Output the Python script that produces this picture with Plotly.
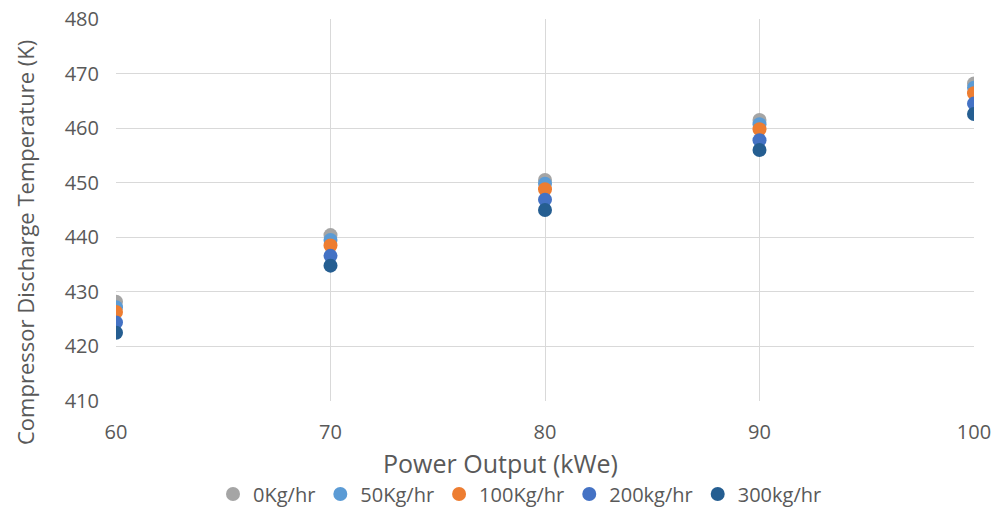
import plotly.graph_objects as go

power = [60, 70, 80, 90, 100]
series_names = ["0Kg/hr", "50Kg/hr", "100Kg/hr", "200kg/hr", "300kg/hr"]
t_0 = [428.2, 440.4, 450.5, 461.5, 468.2]
t_50 = [427.2, 439.5, 449.8, 460.7, 467.4]
t_100 = [426.3, 438.5, 448.8, 459.8, 466.4]
t_200 = [424.4, 436.6, 446.9, 457.8, 464.5]
t_300 = [422.5, 434.8, 445.0, 456.0, 462.6]
colors = ["#A5A5A5", "#5B9BD5", "#ED7D31", "#4472C4", "#255E91"]
x_title = "Power Output (kWe)"
y_title = "Compressor Discharge Temperature (K)"

fig = go.Figure()
for name, vals, c in zip(series_names, [t_0, t_50, t_100, t_200, t_300], colors):
    fig.add_trace(go.Scatter(x=power, y=vals, mode="markers", name=name,
                             marker=dict(color=c, size=14, line=dict(width=0))))

font = "Open Sans, Liberation Sans, sans-serif"
W, H = 995, 508
L, R, T, B = 116, 21, 19, 107
pw, ph = W - L - R, H - T - B

fig.update_layout(
    width=W, height=H,
    margin=dict(l=L, r=R, t=T, b=B, autoexpand=False),
    plot_bgcolor="white", paper_bgcolor="white",
    font=dict(family=font, size=20, color="#595959"),
    xaxis=dict(range=[60, 100], dtick=10, showgrid=True, gridcolor="#D9D9D9", gridwidth=1,
               zeroline=False, showline=False, ticks="", automargin=False,
               ticklabelstandoff=17, tickfont=dict(size=20)),
    yaxis=dict(range=[410, 480], dtick=10, showgrid=True, gridcolor="#D9D9D9", gridwidth=1,
               zeroline=False, showline=False, ticks="", automargin=False,
               ticklabelstandoff=16, tickfont=dict(size=20)),
    legend=dict(orientation="h", x=(520 - L) / pw, xanchor="center",
                y=-(494 - (T + ph)) / ph, yanchor="middle",
                font=dict(size=20), itemwidth=30, traceorder="normal"),
    showlegend=True,
)
fig.add_annotation(text=x_title, xref="paper", yref="paper",
                   x=(500 - L) / pw, y=-(463 - (T + ph)) / ph,
                   xanchor="center", yanchor="middle", showarrow=False,
                   font=dict(size=25, color="#595959"))
fig.add_annotation(text=y_title, xref="paper", yref="paper",
                   x=(25 - L) / pw, y=(T + ph - 243) / ph,
                   xanchor="center", yanchor="middle", showarrow=False, textangle=-90,
                   font=dict(size=22, color="#595959"))
fig.write_html("out.html")
